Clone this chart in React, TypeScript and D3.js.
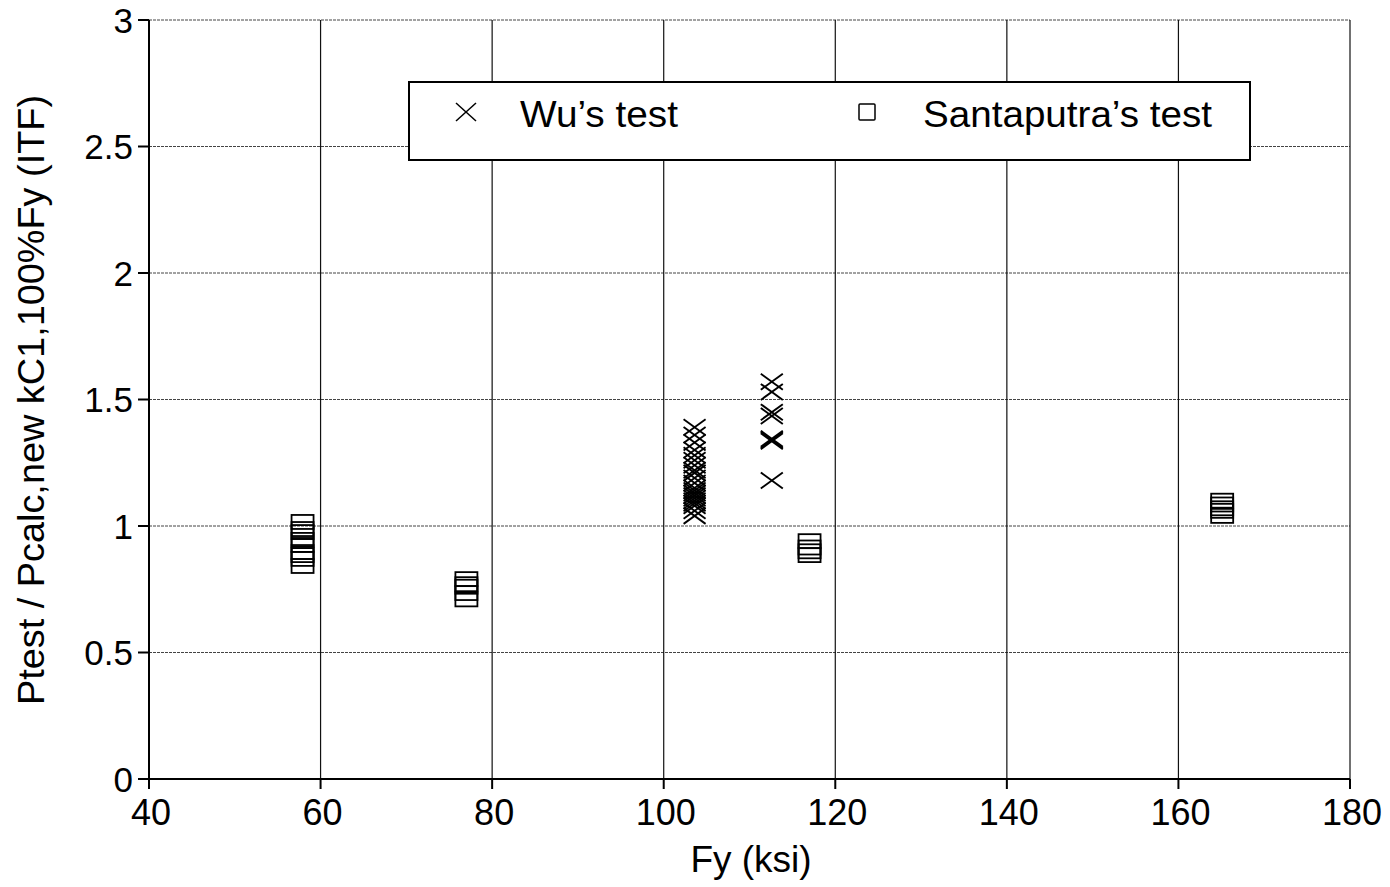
import React from "react";
import * as d3 from "d3";

const xTicks = [40, 60, 80, 100, 120, 140, 160, 180];
const yTicks = [0, 0.5, 1, 1.5, 2, 2.5, 3];
const yTickLabels = ["0", "0.5", "1", "1.5", "2", "2.5", "3"];

const wuFy = [
  103.6, 103.6, 103.6, 103.6, 103.6, 103.6, 103.6, 103.6, 103.6, 103.6, 103.6,
  103.6, 103.6, 103.6, 103.6, 103.6, 103.6, 103.6, 103.6, 103.6, 103.6,
  112.6, 112.6, 112.6, 112.6, 112.6, 112.6, 112.6, 112.6,
];
const wuRatio = [
  1.39, 1.36, 1.33, 1.3, 1.28, 1.26, 1.24, 1.22, 1.21, 1.19, 1.17,
  1.15, 1.14, 1.13, 1.12, 1.11, 1.1, 1.09, 1.08, 1.06, 1.04,
  1.57, 1.53, 1.45, 1.435, 1.345, 1.34, 1.335, 1.18,
];

const santFy = [
  57.9, 57.9, 57.9, 57.9, 57.9, 57.9, 57.9, 57.9, 57.9,
  77, 77, 77, 77, 77,
  117, 117, 117, 117,
  165.1, 165.1, 165.1, 165.1, 165.1,
];
const santRatio = [
  1.016, 0.988, 0.976, 0.945, 0.925, 0.897, 0.885, 0.87, 0.842,
  0.79, 0.77, 0.76, 0.735, 0.71,
  0.94, 0.915, 0.9, 0.885,
  1.1, 1.085, 1.07, 1.06, 1.04,
];

const W = 1390;
const H = 887;
const left = 149;
const right = 1350;
const top = 20;
const bottom = 779;
const FONT = "'Liberation Sans', Arial, Helvetica, sans-serif";

export default function App() {
  const x = d3.scaleLinear().domain([40, 180]).range([left, right]);
  const y = d3.scaleLinear().domain([0, 3]).range([bottom, top]);

  const cross = (cx: number, cy: number, hw: number, hh: number, key: string, sw = 1.9) => (
    <g key={key} stroke="#000" strokeWidth={sw} fill="none">
      <line x1={cx - hw} y1={cy - hh} x2={cx + hw} y2={cy + hh} />
      <line x1={cx - hw} y1={cy + hh} x2={cx + hw} y2={cy - hh} />
    </g>
  );

  return (
    <svg
      width={W}
      height={H}
      style={{ position: "absolute", left: 0, top: 0, background: "#fff" }}
      fontFamily={FONT}
    >
      {/* horizontal grid */}
      {yTicks.slice(1).map((t) => (
        <line
          key={"hg" + t}
          x1={left}
          x2={right}
          y1={y(t)}
          y2={y(t)}
          stroke="#444"
          strokeWidth={1}
          strokeDasharray="3,1"
        />
      ))}
      {/* vertical grid */}
      {xTicks.slice(1).map((t) => (
        <line
          key={"vg" + t}
          x1={x(t)}
          x2={x(t)}
          y1={top}
          y2={bottom}
          stroke="#111"
          strokeWidth={1.2}
        />
      ))}
      {/* axes */}
      <line x1={left} x2={left} y1={top} y2={bottom + 1} stroke="#000" strokeWidth={2} />
      <line x1={left - 1} x2={right} y1={bottom} y2={bottom} stroke="#000" strokeWidth={2} />
      {yTicks.map((t, i) => (
        <g key={"yt" + t}>
          <line x1={left - 11} x2={left} y1={y(t)} y2={y(t)} stroke="#000" strokeWidth={2} />
          <text
            x={left - 16}
            y={y(t) + 12.5}
            textAnchor="end"
            fontSize={35}
            fill="#000"
          >
            {yTickLabels[i]}
          </text>
        </g>
      ))}
      {xTicks.map((t) => (
        <g key={"xt" + t}>
          <line x1={x(t)} x2={x(t)} y1={bottom} y2={bottom + 10} stroke="#000" strokeWidth={2} />
          <text x={x(t) + 2} y={825} textAnchor="middle" fontSize={36} fill="#000">
            {t}
          </text>
        </g>
      ))}
      <text x={751} y={872} textAnchor="middle" fontSize={37} fill="#000">
        Fy (ksi)
      </text>
      <text
        transform={`translate(44,400) rotate(-90)`}
        textAnchor="middle"
        fontSize={36}
        fill="#000"
        textLength={610}
        lengthAdjust="spacingAndGlyphs"
      >
        Ptest / Pcalc,new kC1,100%Fy (ITF)
      </text>

      {/* Santaputra squares */}
      {santFy.map((f, i) => (
        <rect
          key={"s" + i}
          x={x(f) - 11}
          y={y(santRatio[i]) - 7}
          width={22}
          height={14}
          fill="none"
          stroke="#000"
          strokeWidth={1.8}
        />
      ))}
      {/* Wu crosses */}
      {wuFy.map((f, i) => cross(x(f), y(wuRatio[i]), 11, 8, "w" + i))}

      {/* legend */}
      <rect x={409} y={82} width={841} height={78} fill="#fff" stroke="#000" strokeWidth={2} />
      {cross(466, 112, 10, 9, "lw", 1.5)}
      <text
        x={520}
        y={127}
        fontSize={37}
        fill="#000"
        textLength={158}
        lengthAdjust="spacingAndGlyphs"
      >
        Wu’s test
      </text>
      <rect x={859} y={104} width={16} height={16} fill="none" stroke="#000" strokeWidth={1.5} rx={1} />
      <text
        x={923}
        y={127}
        fontSize={37}
        fill="#000"
        textLength={289}
        lengthAdjust="spacingAndGlyphs"
      >
        Santaputra’s test
      </text>
    </svg>
  );
}
